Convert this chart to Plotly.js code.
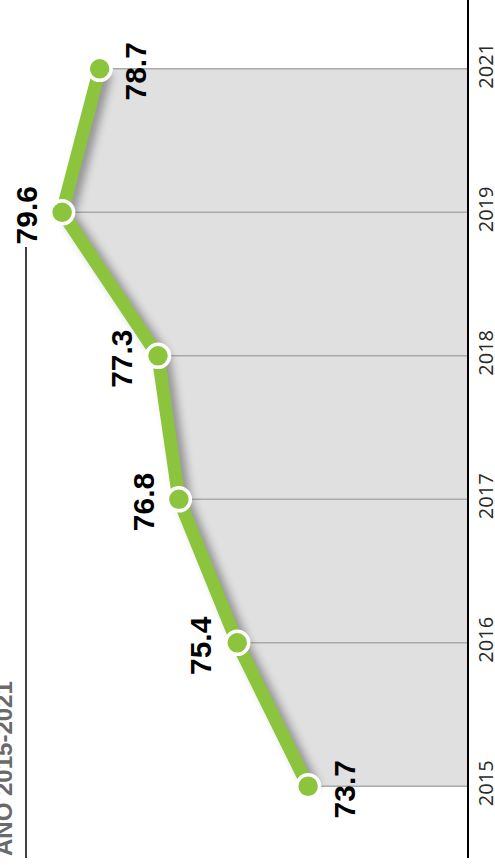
<!DOCTYPE html>
<html>
<head>
<meta charset="utf-8">
<script src="https://cdn.plot.ly/plotly-3.0.1.min.js"></script>
<style>
html,body{margin:0;padding:0;background:#fff;}
#chart{width:495px;height:868px;}
</style>
</head>
<body>
<div id="chart"></div>
<script>
// Data
const years = ["2015", "2016", "2017", "2018", "2019", "2021"];
const values = [73.7, 75.4, 76.8, 77.3, 79.6, 78.7];
const titleText = "AÑO 2015-2021";
// label side: +1 = right of point, -1 = left of point
const labelSide = [1, -1, -1, -1, -1, 1];

const xRange = [81.09, 69.89];
const green = "#8cc43e";

// gridline segments from each point to the axis baseline
const gx = [], gy = [];
for (let i = 0; i < years.length; i++) {
  gx.push(values[i], xRange[1], null);
  gy.push(years[i], years[i], null);
}

const traces = [
  {
    type: "scatter", mode: "lines", x: values, y: years,
    fill: "tozerox", fillcolor: "#e0e0e0",
    line: {width: 0, color: "rgba(0,0,0,0)"}, hoverinfo: "skip"
  },
  {
    type: "scatter", mode: "lines", x: gx, y: gy,
    line: {width: 1.5, color: "#a9a9a9"}, hoverinfo: "skip", connectgaps: false
  },
  {
    type: "scatter", mode: "lines+markers", x: values, y: years,
    line: {width: 13, color: green},
    marker: {size: 23, color: green, line: {color: "#ffffff", width: 3.5}}
  }
];

const annotations = values.map((v, i) => ({
  x: v, y: i, xref: "x", yref: "y",
  text: "<b>" + v.toFixed(1) + "</b>", showarrow: false, textangle: -90,
  xshift: 36 * labelSide[i], yshift: -3,
  font: {family: "Liberation Sans Narrow, Liberation Sans, Arial, sans-serif", size: 30, color: "#000"}
}));

annotations.push({
  xref: "paper", yref: "paper", x: 19 / 467, y: 0,
  xanchor: "right", yanchor: "bottom",
  text: "<b>" + titleText + "</b>", showarrow: false, textangle: -90,
  font: {family: "Liberation Sans Narrow, Liberation Sans, Arial, sans-serif", size: 24, color: "#6a6a6a"}
});

const layout = {
  width: 495, height: 868,
  margin: {l: 0, r: 28, t: 0, b: 10},
  paper_bgcolor: "#fff", plot_bgcolor: "#fff",
  showlegend: false,
  xaxis: {range: xRange, showticklabels: false, ticks: "", showgrid: false, zeroline: false, showline: false},
  yaxis: {
    type: "category", categoryorder: "array", categoryarray: years,
    range: [-0.5, 5.48], side: "right",
    showline: true, linecolor: "#000", linewidth: 1.5,
    showgrid: false, zeroline: false, ticks: "",
    tickangle: -90,
    tickfont: {family: "Open Sans, sans-serif", size: 20, color: "#2a2a2a"}
  },
  shapes: [{
    type: "line", xref: "paper", yref: "paper",
    x0: 26 / 467, x1: 26 / 467, y0: 0, y1: (858 - 247) / 858,
    line: {color: "#000", width: 1.5}
  }],
  annotations: annotations
};

Plotly.newPlot("chart", traces, layout, {displayModeBar: false, staticPlot: true}).then(() => {
  const tr = document.querySelectorAll(".scatterlayer .trace");
  if (tr[2]) {
    const p = tr[2].querySelector("path.js-line");
    if (p) p.style.filter = "drop-shadow(6px 3px 4px rgba(0,0,0,0.35))";
  }
});
</script>
</body>
</html>
